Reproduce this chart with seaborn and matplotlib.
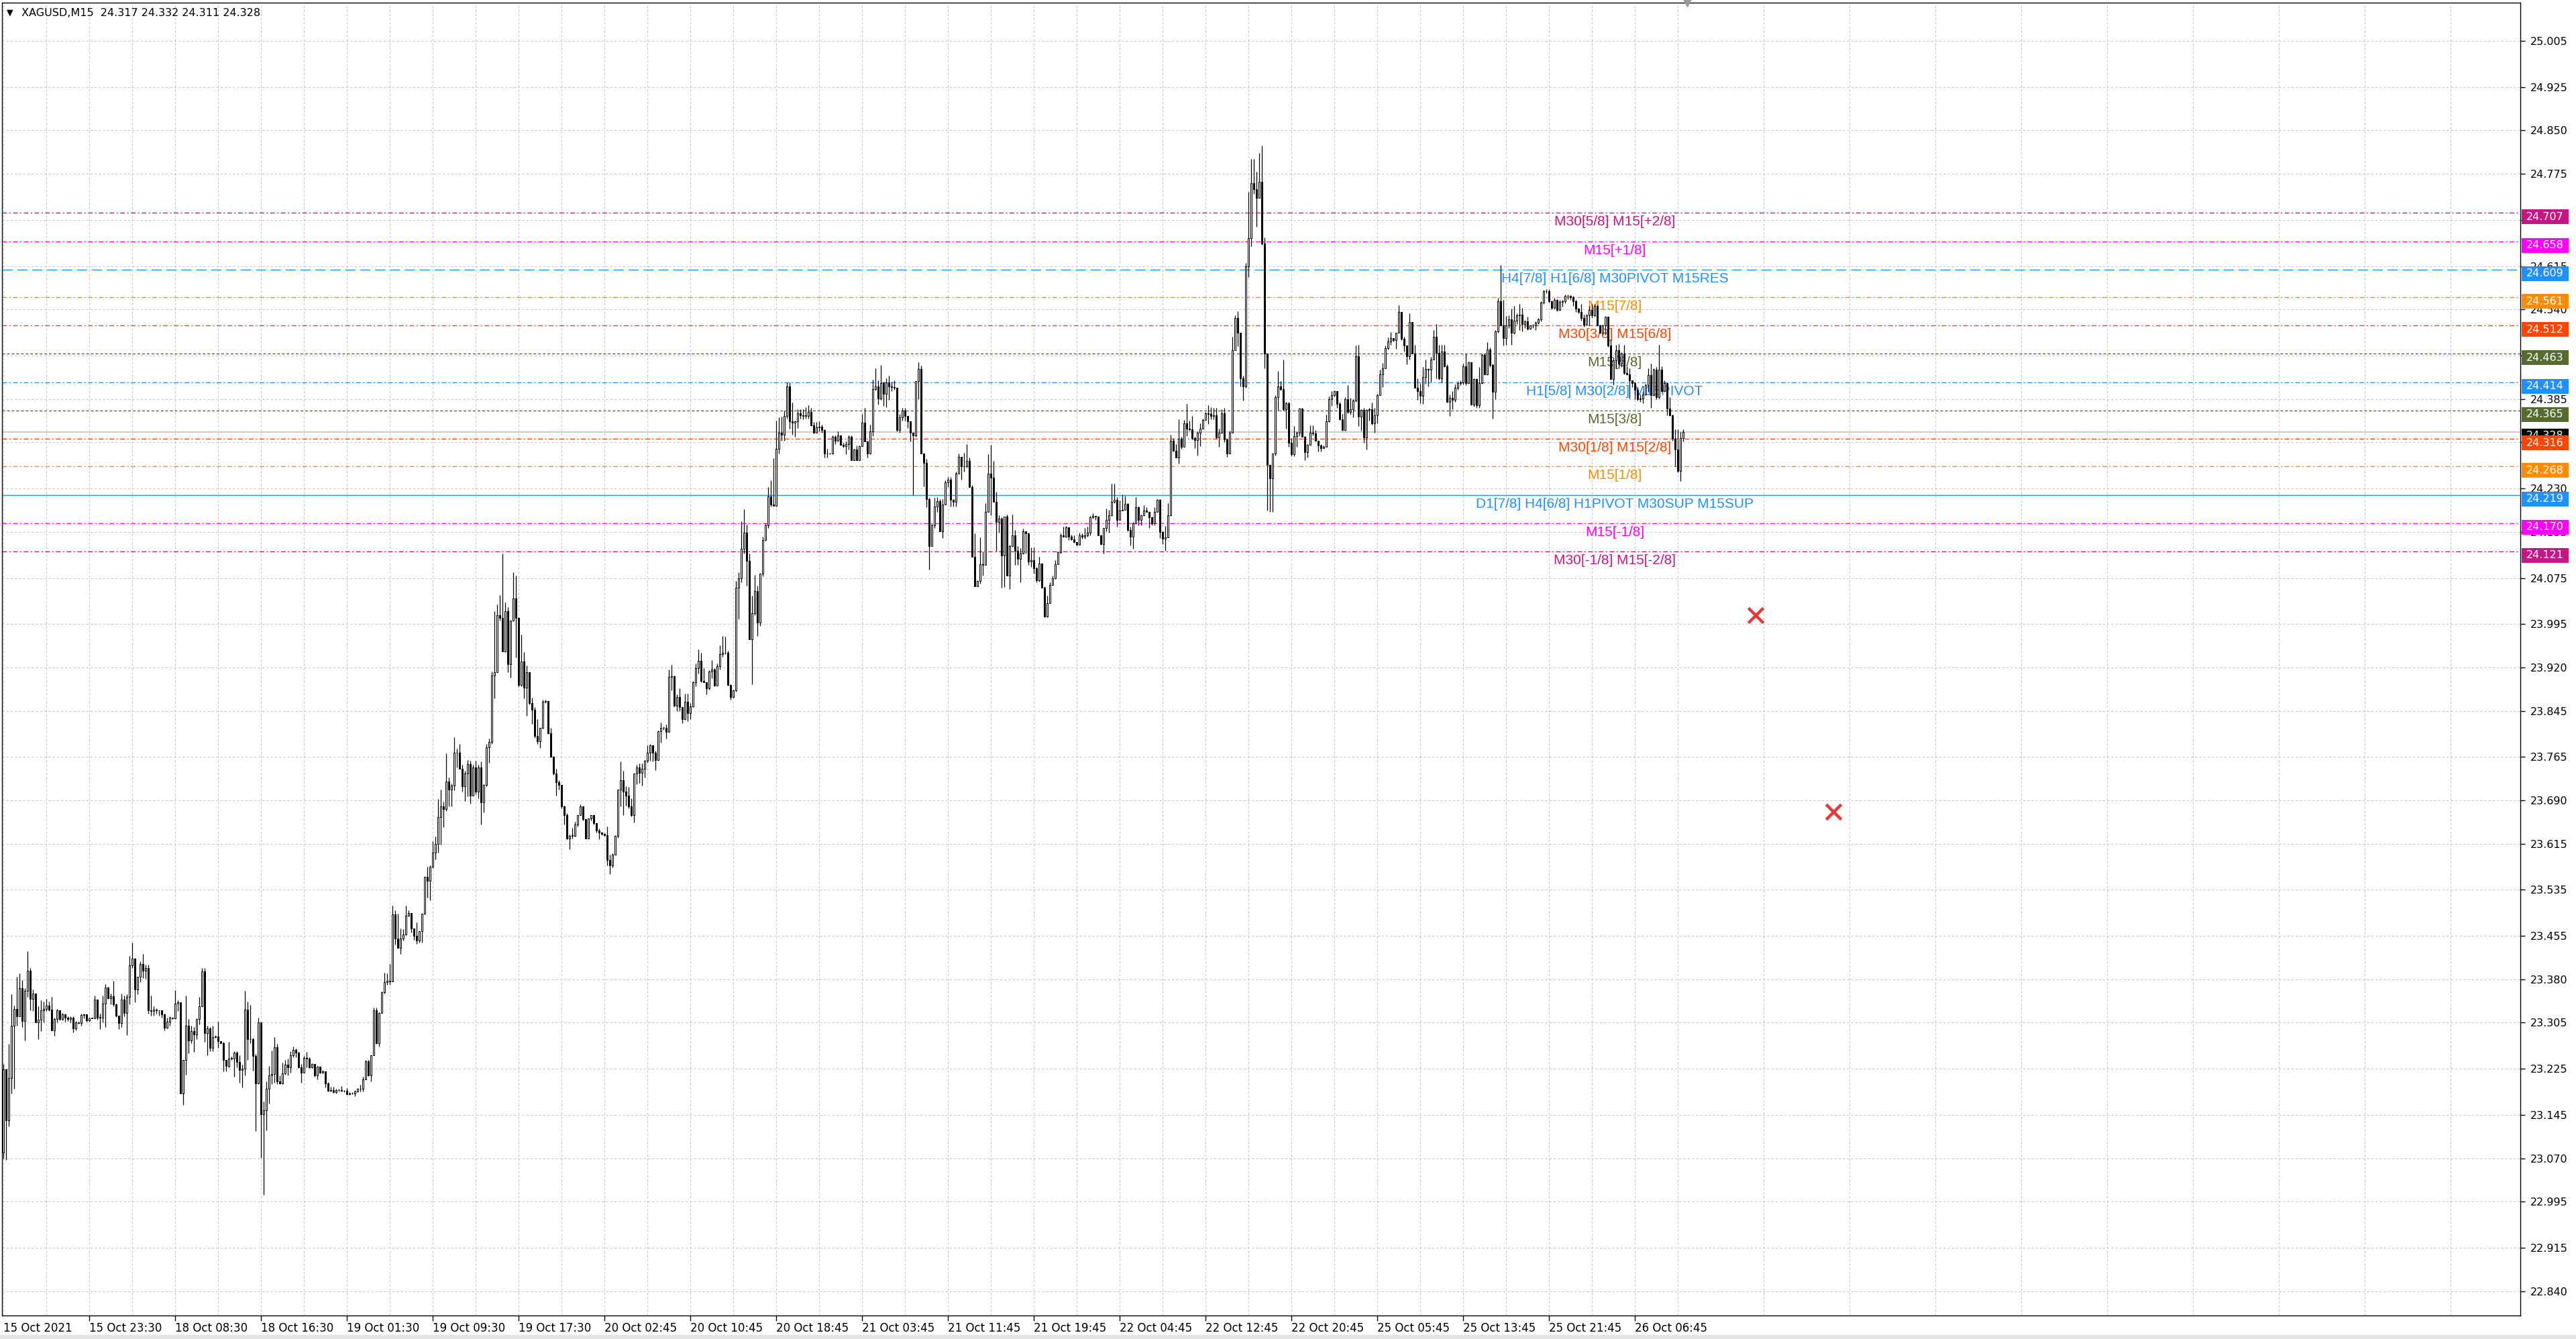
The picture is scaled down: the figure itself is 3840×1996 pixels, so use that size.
import numpy as np
import pandas as pd
import matplotlib
matplotlib.use('Agg')
import matplotlib.pyplot as plt
import matplotlib.transforms as mtransforms
from matplotlib.patches import Rectangle
import seaborn as sns

HEADER = "XAGUSD,M15  24.317 24.332 24.311 24.328"

# M15 bars (open of a bar = close of the previous one)
first_open = 23.080
close = [
    23.224, 23.136, 23.209, 23.300, 23.329, 23.316, 23.365, 23.308, 23.360, 23.395,
    23.346, 23.356, 23.306, 23.310, 23.326, 23.329, 23.335, 23.328, 23.292, 23.311,
    23.326, 23.311, 23.320, 23.314, 23.311, 23.314, 23.295, 23.306, 23.304, 23.318,
    23.319, 23.309, 23.313, 23.313, 23.345, 23.314, 23.314, 23.338, 23.366, 23.347,
    23.351, 23.337, 23.317, 23.304, 23.345, 23.322, 23.350, 23.404, 23.416, 23.363,
    23.384, 23.407, 23.395, 23.400, 23.326, 23.325, 23.328, 23.326, 23.326, 23.319,
    23.296, 23.307, 23.314, 23.312, 23.338, 23.340, 23.183, 23.240, 23.300, 23.274,
    23.290, 23.285, 23.311, 23.334, 23.394, 23.287, 23.295, 23.261, 23.280, 23.281,
    23.273, 23.270, 23.241, 23.230, 23.243, 23.243, 23.253, 23.237, 23.223, 23.226,
    23.328, 23.276, 23.277, 23.247, 23.200, 23.305, 23.146, 23.153, 23.190, 23.214,
    23.216, 23.263, 23.203, 23.200, 23.217, 23.232, 23.228, 23.249, 23.258, 23.253,
    23.228, 23.219, 23.244, 23.243, 23.228, 23.234, 23.214, 23.229, 23.218, 23.221,
    23.200, 23.187, 23.188, 23.185, 23.188, 23.188, 23.187, 23.187, 23.181, 23.183,
    23.182, 23.186, 23.191, 23.190, 23.207, 23.238, 23.214, 23.249, 23.326, 23.269,
    23.322, 23.358, 23.375, 23.377, 23.376, 23.493, 23.451, 23.435, 23.451, 23.458,
    23.490, 23.495, 23.468, 23.455, 23.447, 23.463, 23.494, 23.558, 23.551, 23.575,
    23.599, 23.614, 23.661, 23.679, 23.675, 23.722, 23.709, 23.715, 23.773, 23.772,
    23.745, 23.714, 23.736, 23.753, 23.698, 23.747, 23.705, 23.747, 23.686, 23.717,
    23.782, 23.791, 23.906, 23.912, 24.011, 24.006, 23.948, 24.018, 23.926, 24.001,
    24.040, 24.006, 23.890, 23.931, 23.885, 23.912, 23.858, 23.847, 23.802, 23.792,
    23.815, 23.861, 23.862, 23.806, 23.766, 23.736, 23.721, 23.717, 23.679, 23.664,
    23.624, 23.629, 23.629, 23.648, 23.665, 23.679, 23.657, 23.624, 23.659, 23.664,
    23.650, 23.638, 23.634, 23.632, 23.630, 23.587, 23.577, 23.596, 23.629, 23.709,
    23.725, 23.705, 23.698, 23.679, 23.664, 23.736, 23.747, 23.738, 23.745, 23.759,
    23.773, 23.785, 23.772, 23.760, 23.810, 23.816, 23.815, 23.809, 23.904, 23.905,
    23.854, 23.869, 23.851, 23.831, 23.861, 23.841, 23.853, 23.895, 23.919, 23.932,
    23.897, 23.895, 23.884, 23.913, 23.917, 23.889, 23.922, 23.943, 23.946, 23.945,
    23.890, 23.869, 23.880, 24.058, 24.074, 24.126, 24.154, 24.105, 23.969, 24.014,
    24.052, 23.998, 24.083, 24.141, 24.166, 24.216, 24.202, 24.200, 24.299, 24.327,
    24.323, 24.356, 24.407, 24.346, 24.344, 24.346, 24.360, 24.357, 24.356, 24.356,
    24.362, 24.339, 24.327, 24.336, 24.337, 24.331, 24.290, 24.291, 24.290, 24.319,
    24.313, 24.322, 24.306, 24.303, 24.307, 24.320, 24.279, 24.298, 24.279, 24.303,
    24.344, 24.311, 24.290, 24.329, 24.402, 24.407, 24.386, 24.412, 24.394, 24.414,
    24.407, 24.406, 24.404, 24.331, 24.353, 24.365, 24.355, 24.346, 24.326, 24.322,
    24.416, 24.437, 24.291, 24.274, 24.212, 24.130, 24.166, 24.199, 24.208, 24.156,
    24.202, 24.240, 24.245, 24.210, 24.207, 24.256, 24.285, 24.268, 24.268, 24.278,
    24.232, 24.112, 24.060, 24.070, 24.099, 24.098, 24.190, 24.256, 24.249, 24.207,
    24.172, 24.178, 24.114, 24.181, 24.079, 24.130, 24.149, 24.122, 24.108, 24.118,
    24.156, 24.152, 24.103, 24.106, 24.092, 24.071, 24.100, 24.058, 24.008, 24.031,
    24.063, 24.075, 24.099, 24.120, 24.149, 24.147, 24.163, 24.147, 24.142, 24.137,
    24.132, 24.149, 24.146, 24.149, 24.154, 24.180, 24.183, 24.181, 24.149, 24.134,
    24.161, 24.176, 24.184, 24.207, 24.210, 24.175, 24.192, 24.193, 24.203, 24.158,
    24.147, 24.170, 24.197, 24.176, 24.184, 24.192, 24.190, 24.180, 24.170, 24.190,
    24.210, 24.155, 24.143, 24.145, 24.184, 24.313, 24.295, 24.284, 24.316, 24.302,
    24.343, 24.334, 24.332, 24.317, 24.314, 24.327, 24.334, 24.349, 24.360, 24.359,
    24.356, 24.357, 24.318, 24.327, 24.360, 24.315, 24.291, 24.327, 24.469, 24.525,
    24.500, 24.421, 24.407, 24.614, 24.663, 24.758, 24.748, 24.733, 24.761, 24.654,
    24.463, 24.271, 24.247, 24.290, 24.388, 24.407, 24.402, 24.367, 24.378, 24.309,
    24.289, 24.321, 24.327, 24.368, 24.320, 24.293, 24.306, 24.326, 24.325, 24.313,
    24.305, 24.300, 24.302, 24.346, 24.385, 24.392, 24.398, 24.377, 24.350, 24.331,
    24.385, 24.362, 24.367, 24.382, 24.459, 24.354, 24.366, 24.318, 24.366, 24.367,
    24.343, 24.357, 24.392, 24.428, 24.438, 24.473, 24.485, 24.490, 24.487, 24.499,
    24.536, 24.489, 24.478, 24.459, 24.518, 24.463, 24.404, 24.398, 24.390, 24.423,
    24.437, 24.436, 24.453, 24.493, 24.465, 24.420, 24.467, 24.442, 24.380, 24.387,
    24.383, 24.404, 24.413, 24.414, 24.442, 24.413, 24.448, 24.375, 24.419, 24.374,
    24.413, 24.461, 24.428, 24.471, 24.444, 24.397, 24.502, 24.554, 24.512, 24.490,
    24.512, 24.523, 24.500, 24.521, 24.530, 24.531, 24.515, 24.519, 24.506, 24.512,
    24.512, 24.517, 24.523, 24.552, 24.572, 24.571, 24.554, 24.543, 24.557, 24.539,
    24.553, 24.554, 24.564, 24.563, 24.561, 24.554, 24.541, 24.535, 24.525, 24.513,
    24.530, 24.539, 24.530, 24.546, 24.512, 24.500, 24.512, 24.527, 24.477, 24.419,
    24.452, 24.469, 24.446, 24.463, 24.430, 24.428, 24.417, 24.413, 24.401, 24.384,
    24.386, 24.393, 24.409, 24.426, 24.392, 24.436, 24.388, 24.436, 24.399, 24.413,
    24.368, 24.357, 24.316, 24.297, 24.260, 24.317, 24.328,
]
high = [
    23.234, 23.226, 23.268, 23.354, 23.335, 23.384, 23.390, 23.379, 23.365, 23.429,
    23.400, 23.363, 23.356, 23.333, 23.344, 23.342, 23.346, 23.342, 23.350, 23.314,
    23.329, 23.327, 23.322, 23.321, 23.316, 23.316, 23.316, 23.308, 23.307, 23.321,
    23.321, 23.320, 23.314, 23.314, 23.352, 23.345, 23.321, 23.352, 23.372, 23.367,
    23.356, 23.377, 23.338, 23.317, 23.356, 23.352, 23.354, 23.421, 23.444, 23.417,
    23.385, 23.411, 23.424, 23.406, 23.405, 23.352, 23.333, 23.330, 23.327, 23.325,
    23.321, 23.314, 23.316, 23.314, 23.361, 23.344, 23.340, 23.241, 23.352, 23.311,
    23.300, 23.298, 23.312, 23.350, 23.400, 23.400, 23.300, 23.298, 23.300, 23.283,
    23.307, 23.273, 23.272, 23.241, 23.272, 23.246, 23.256, 23.256, 23.249, 23.232,
    23.360, 23.342, 23.336, 23.279, 23.251, 23.314, 23.305, 23.169, 23.203, 23.230,
    23.257, 23.280, 23.268, 23.214, 23.236, 23.240, 23.243, 23.256, 23.264, 23.260,
    23.254, 23.233, 23.247, 23.254, 23.245, 23.235, 23.234, 23.230, 23.229, 23.223,
    23.221, 23.202, 23.194, 23.194, 23.191, 23.190, 23.195, 23.188, 23.192, 23.185,
    23.185, 23.188, 23.192, 23.197, 23.212, 23.241, 23.240, 23.249, 23.331, 23.331,
    23.323, 23.359, 23.391, 23.390, 23.407, 23.508, 23.500, 23.494, 23.468, 23.467,
    23.508, 23.499, 23.495, 23.468, 23.479, 23.463, 23.494, 23.558, 23.575, 23.577,
    23.619, 23.627, 23.692, 23.709, 23.688, 23.771, 23.729, 23.719, 23.799, 23.780,
    23.788, 23.752, 23.741, 23.760, 23.759, 23.752, 23.759, 23.752, 23.757, 23.718,
    23.788, 23.797, 23.913, 24.018, 24.029, 24.046, 24.117, 24.033, 24.025, 24.001,
    24.085, 24.079, 24.007, 23.977, 23.947, 23.924, 23.911, 23.868, 23.852, 23.830,
    23.816, 23.864, 23.864, 23.862, 23.815, 23.767, 23.745, 23.725, 23.717, 23.681,
    23.668, 23.631, 23.642, 23.653, 23.665, 23.683, 23.679, 23.657, 23.659, 23.664,
    23.664, 23.651, 23.641, 23.636, 23.633, 23.645, 23.596, 23.598, 23.630, 23.709,
    23.757, 23.741, 23.714, 23.713, 23.693, 23.737, 23.752, 23.754, 23.754, 23.760,
    23.785, 23.787, 23.785, 23.776, 23.811, 23.825, 23.818, 23.821, 23.916, 23.925,
    23.906, 23.874, 23.884, 23.848, 23.875, 23.875, 23.858, 23.897, 23.927, 23.951,
    23.945, 23.919, 23.895, 23.915, 23.933, 23.919, 23.927, 23.958, 23.975, 23.973,
    23.949, 23.891, 23.881, 24.070, 24.085, 24.173, 24.194, 24.167, 24.118, 24.044,
    24.080, 24.062, 24.083, 24.147, 24.170, 24.232, 24.244, 24.282, 24.347, 24.353,
    24.354, 24.365, 24.414, 24.414, 24.379, 24.347, 24.367, 24.367, 24.367, 24.371,
    24.374, 24.369, 24.345, 24.345, 24.346, 24.340, 24.332, 24.299, 24.292, 24.322,
    24.322, 24.329, 24.321, 24.309, 24.311, 24.322, 24.322, 24.299, 24.304, 24.305,
    24.359, 24.370, 24.313, 24.341, 24.418, 24.438, 24.417, 24.444, 24.415, 24.421,
    24.425, 24.415, 24.417, 24.404, 24.359, 24.370, 24.369, 24.356, 24.346, 24.326,
    24.416, 24.449, 24.443, 24.291, 24.281, 24.214, 24.170, 24.214, 24.215, 24.212,
    24.211, 24.244, 24.250, 24.250, 24.212, 24.259, 24.290, 24.285, 24.292, 24.307,
    24.284, 24.236, 24.152, 24.071, 24.145, 24.121, 24.204, 24.289, 24.306, 24.278,
    24.224, 24.184, 24.180, 24.181, 24.185, 24.133, 24.185, 24.158, 24.130, 24.127,
    24.160, 24.156, 24.153, 24.128, 24.128, 24.094, 24.112, 24.100, 24.060, 24.044,
    24.067, 24.079, 24.106, 24.121, 24.152, 24.164, 24.165, 24.162, 24.150, 24.149,
    24.137, 24.153, 24.152, 24.162, 24.164, 24.183, 24.187, 24.183, 24.181, 24.150,
    24.162, 24.195, 24.193, 24.238, 24.238, 24.215, 24.209, 24.220, 24.217, 24.205,
    24.164, 24.172, 24.215, 24.199, 24.185, 24.201, 24.197, 24.190, 24.181, 24.197,
    24.212, 24.211, 24.156, 24.165, 24.205, 24.323, 24.317, 24.307, 24.350, 24.320,
    24.348, 24.376, 24.347, 24.356, 24.320, 24.329, 24.343, 24.351, 24.362, 24.374,
    24.371, 24.370, 24.369, 24.334, 24.367, 24.370, 24.316, 24.330, 24.493, 24.530,
    24.537, 24.499, 24.425, 24.620, 24.744, 24.800, 24.800, 24.778, 24.811, 24.824,
    24.664, 24.463, 24.271, 24.291, 24.392, 24.433, 24.416, 24.453, 24.380, 24.380,
    24.316, 24.338, 24.329, 24.370, 24.370, 24.321, 24.307, 24.339, 24.339, 24.331,
    24.313, 24.307, 24.304, 24.358, 24.389, 24.398, 24.400, 24.399, 24.380, 24.359,
    24.388, 24.409, 24.387, 24.385, 24.478, 24.479, 24.367, 24.369, 24.367, 24.369,
    24.379, 24.369, 24.394, 24.436, 24.447, 24.477, 24.491, 24.501, 24.490, 24.500,
    24.547, 24.531, 24.493, 24.478, 24.533, 24.518, 24.479, 24.420, 24.411, 24.440,
    24.453, 24.438, 24.458, 24.504, 24.515, 24.479, 24.479, 24.479, 24.445, 24.393,
    24.398, 24.410, 24.416, 24.417, 24.446, 24.463, 24.450, 24.448, 24.421, 24.421,
    24.440, 24.463, 24.463, 24.483, 24.474, 24.446, 24.504, 24.560, 24.617, 24.556,
    24.529, 24.530, 24.541, 24.546, 24.533, 24.550, 24.543, 24.522, 24.527, 24.514,
    24.515, 24.519, 24.525, 24.554, 24.574, 24.575, 24.575, 24.555, 24.560, 24.558,
    24.556, 24.556, 24.566, 24.566, 24.565, 24.564, 24.556, 24.543, 24.550, 24.531,
    24.532, 24.546, 24.549, 24.549, 24.548, 24.513, 24.514, 24.528, 24.528, 24.488,
    24.457, 24.479, 24.480, 24.466, 24.479, 24.442, 24.438, 24.415, 24.415, 24.405,
    24.393, 24.397, 24.411, 24.438, 24.446, 24.438, 24.440, 24.479, 24.442, 24.417,
    24.413, 24.388, 24.358, 24.332, 24.332, 24.328, 24.332,
]
low = [
    23.070, 23.067, 23.125, 23.182, 23.191, 23.300, 23.316, 23.298, 23.274, 23.350,
    23.327, 23.325, 23.306, 23.277, 23.291, 23.306, 23.325, 23.325, 23.292, 23.282,
    23.306, 23.309, 23.309, 23.307, 23.308, 23.306, 23.288, 23.292, 23.303, 23.300,
    23.313, 23.307, 23.307, 23.312, 23.312, 23.310, 23.294, 23.306, 23.298, 23.346,
    23.337, 23.333, 23.315, 23.294, 23.298, 23.316, 23.283, 23.337, 23.400, 23.340,
    23.354, 23.375, 23.382, 23.381, 23.321, 23.317, 23.317, 23.321, 23.317, 23.314,
    23.292, 23.295, 23.300, 23.311, 23.311, 23.325, 23.183, 23.163, 23.215, 23.252,
    23.269, 23.254, 23.276, 23.302, 23.333, 23.272, 23.249, 23.256, 23.256, 23.279,
    23.262, 23.268, 23.221, 23.221, 23.228, 23.240, 23.212, 23.228, 23.201, 23.193,
    23.214, 23.241, 23.270, 23.222, 23.117, 23.199, 23.071, 23.007, 23.119, 23.165,
    23.199, 23.201, 23.199, 23.199, 23.199, 23.215, 23.214, 23.218, 23.245, 23.245,
    23.227, 23.201, 23.218, 23.228, 23.227, 23.227, 23.212, 23.207, 23.217, 23.217,
    23.193, 23.186, 23.186, 23.184, 23.182, 23.186, 23.186, 23.185, 23.180, 23.180,
    23.181, 23.178, 23.185, 23.186, 23.186, 23.207, 23.213, 23.203, 23.249, 23.268,
    23.264, 23.322, 23.356, 23.371, 23.371, 23.376, 23.440, 23.434, 23.424, 23.447,
    23.456, 23.489, 23.461, 23.449, 23.442, 23.444, 23.444, 23.493, 23.522, 23.517,
    23.573, 23.588, 23.599, 23.613, 23.643, 23.672, 23.679, 23.680, 23.708, 23.747,
    23.745, 23.705, 23.689, 23.697, 23.684, 23.698, 23.700, 23.693, 23.648, 23.669,
    23.714, 23.755, 23.787, 23.866, 23.916, 24.001, 23.948, 23.947, 23.912, 23.902,
    24.000, 23.937, 23.886, 23.887, 23.867, 23.836, 23.856, 23.822, 23.798, 23.788,
    23.781, 23.814, 23.859, 23.805, 23.764, 23.734, 23.698, 23.709, 23.676, 23.648,
    23.623, 23.605, 23.624, 23.627, 23.645, 23.664, 23.655, 23.624, 23.624, 23.655,
    23.648, 23.634, 23.623, 23.630, 23.628, 23.577, 23.562, 23.574, 23.597, 23.625,
    23.679, 23.665, 23.681, 23.676, 23.662, 23.652, 23.718, 23.720, 23.716, 23.729,
    23.755, 23.759, 23.757, 23.742, 23.760, 23.790, 23.812, 23.797, 23.809, 23.880,
    23.853, 23.845, 23.845, 23.824, 23.829, 23.827, 23.830, 23.851, 23.887, 23.909,
    23.895, 23.894, 23.874, 23.882, 23.901, 23.887, 23.893, 23.917, 23.939, 23.943,
    23.889, 23.864, 23.868, 23.878, 24.004, 24.067, 24.118, 24.062, 23.969, 23.891,
    24.010, 23.974, 23.992, 24.078, 24.140, 24.162, 24.199, 24.200, 24.199, 24.291,
    24.313, 24.313, 24.351, 24.333, 24.323, 24.319, 24.335, 24.351, 24.350, 24.351,
    24.351, 24.338, 24.325, 24.327, 24.329, 24.327, 24.283, 24.283, 24.289, 24.289,
    24.307, 24.312, 24.305, 24.301, 24.289, 24.298, 24.279, 24.279, 24.279, 24.279,
    24.303, 24.311, 24.283, 24.289, 24.321, 24.400, 24.375, 24.383, 24.373, 24.371,
    24.383, 24.399, 24.401, 24.329, 24.327, 24.347, 24.347, 24.335, 24.311, 24.218,
    24.319, 24.385, 24.291, 24.234, 24.198, 24.090, 24.130, 24.162, 24.190, 24.156,
    24.144, 24.202, 24.232, 24.199, 24.199, 24.199, 24.256, 24.245, 24.259, 24.266,
    24.232, 24.112, 24.060, 24.060, 24.065, 24.079, 24.098, 24.189, 24.184, 24.207,
    24.121, 24.154, 24.058, 24.059, 24.079, 24.056, 24.129, 24.098, 24.098, 24.068,
    24.116, 24.117, 24.098, 24.094, 24.083, 24.067, 24.069, 24.058, 24.007, 24.007,
    24.031, 24.063, 24.073, 24.099, 24.118, 24.146, 24.145, 24.141, 24.141, 24.136,
    24.131, 24.132, 24.143, 24.143, 24.147, 24.149, 24.178, 24.176, 24.149, 24.133,
    24.118, 24.156, 24.153, 24.183, 24.205, 24.164, 24.175, 24.192, 24.197, 24.156,
    24.131, 24.126, 24.168, 24.166, 24.166, 24.183, 24.189, 24.162, 24.166, 24.166,
    24.189, 24.144, 24.134, 24.122, 24.145, 24.183, 24.294, 24.284, 24.273, 24.299,
    24.302, 24.321, 24.330, 24.315, 24.300, 24.287, 24.303, 24.334, 24.348, 24.342,
    24.350, 24.350, 24.316, 24.302, 24.325, 24.310, 24.285, 24.290, 24.329, 24.471,
    24.476, 24.407, 24.382, 24.404, 24.596, 24.649, 24.740, 24.683, 24.733, 24.652,
    24.438, 24.192, 24.190, 24.189, 24.287, 24.365, 24.400, 24.365, 24.334, 24.302,
    24.286, 24.286, 24.302, 24.321, 24.320, 24.279, 24.284, 24.305, 24.322, 24.312,
    24.294, 24.294, 24.300, 24.315, 24.345, 24.373, 24.389, 24.370, 24.349, 24.330,
    24.330, 24.360, 24.358, 24.353, 24.380, 24.338, 24.330, 24.309, 24.298, 24.347,
    24.340, 24.327, 24.343, 24.391, 24.405, 24.438, 24.471, 24.479, 24.484, 24.472,
    24.499, 24.487, 24.467, 24.445, 24.453, 24.463, 24.404, 24.383, 24.378, 24.376,
    24.411, 24.407, 24.415, 24.454, 24.420, 24.418, 24.414, 24.440, 24.379, 24.356,
    24.367, 24.380, 24.401, 24.409, 24.410, 24.409, 24.411, 24.374, 24.372, 24.370,
    24.370, 24.411, 24.426, 24.426, 24.440, 24.351, 24.384, 24.500, 24.511, 24.477,
    24.479, 24.508, 24.479, 24.497, 24.515, 24.504, 24.502, 24.508, 24.504, 24.505,
    24.508, 24.504, 24.515, 24.519, 24.550, 24.568, 24.552, 24.540, 24.541, 24.537,
    24.538, 24.545, 24.551, 24.558, 24.557, 24.546, 24.535, 24.533, 24.521, 24.510,
    24.512, 24.512, 24.525, 24.528, 24.511, 24.498, 24.496, 24.496, 24.475, 24.419,
    24.409, 24.438, 24.438, 24.440, 24.428, 24.426, 24.386, 24.405, 24.384, 24.382,
    24.380, 24.378, 24.391, 24.397, 24.370, 24.390, 24.385, 24.386, 24.397, 24.397,
    24.357, 24.355, 24.312, 24.268, 24.258, 24.243, 24.311,
]

x_labels = ['15 Oct 2021', '15 Oct 23:30', '18 Oct 08:30', '18 Oct 16:30', '19 Oct 01:30',
            '19 Oct 09:30', '19 Oct 17:30', '20 Oct 02:45', '20 Oct 10:45', '20 Oct 18:45',
            '21 Oct 03:45', '21 Oct 11:45', '21 Oct 19:45', '22 Oct 04:45', '22 Oct 12:45',
            '22 Oct 20:45', '25 Oct 05:45', '25 Oct 13:45', '25 Oct 21:45', '26 Oct 06:45']
y_ticks = [25.005, 24.925, 24.850, 24.775, 24.695, 24.615, 24.540, 24.460, 24.385, 24.310,
           24.230, 24.155, 24.075, 23.995, 23.920, 23.845, 23.765, 23.690, 23.615, 23.535,
           23.455, 23.380, 23.305, 23.225, 23.145, 23.070, 22.995, 22.915, 22.840]

# murrey math levels drawn by the indicator
level_prices = [24.707, 24.658, 24.609, 24.561, 24.512, 24.463, 24.414,
                24.365, 24.316, 24.268, 24.219, 24.170, 24.121]
level_colors = ['#C71585', '#FF00FF', '#1E90FF', '#FF8C00', '#FF4500', '#556B2F', '#1E90FF',
                '#556B2F', '#FF4500', '#FF8C00', '#1E90FF', '#FF00FF', '#C71585']
level_texts = ['M30[5/8] M15[+2/8]', 'M15[+1/8]', 'H4[7/8] H1[6/8] M30PIVOT M15RES',
               'M15[7/8]', 'M30[3/8] M15[6/8]', 'M15[5/8]', 'H1[5/8] M30[2/8] M15PIVOT',
               'M15[3/8]', 'M30[1/8] M15[2/8]', 'M15[1/8]',
               'D1[7/8] H4[6/8] H1PIVOT M30SUP M15SUP', 'M15[-1/8]', 'M30[-1/8] M15[-2/8]']
current_price = 24.328

# two red cross objects on the chart
cross_bar = [653, 682]
cross_price = [24.010, 23.670]

dashdot = (0, (5, 2.5, 1.5, 2.5))
level_styles = [dashdot, dashdot, (0, (11, 5)), dashdot, dashdot, (0, (3, 2)), dashdot,
                (0, (3, 2)), dashdot, dashdot, '-', dashdot, dashdot]

df = pd.DataFrame({'close': close, 'high': high, 'low': low})
df['open'] = df['close'].shift(1).fillna(first_open)
df['high'] = df[['high', 'open', 'close']].max(axis=1)
df['low'] = df[['low', 'open', 'close']].min(axis=1)
df['bar'] = np.arange(len(df))

sns.set_theme(style='white')
plt.rcParams['font.family'] = ['DejaVu Sans']

W, H = 3840, 1996
fig = plt.figure(figsize=(W / 100, H / 100), dpi=100)
fig.patch.set_facecolor('white')
ax = fig.add_axes([3 / W, 35 / H, 3754 / W, 1957 / H])
ax.set_facecolor('white')
ax.set_xlim(-0.5, 938)
ax.set_ylim(22.798, 25.071)

for s in ax.spines.values():
    s.set_color('black')
    s.set_linewidth(1.0)

# grid
grid_kw = dict(color='#c4c4c4', lw=0.75, linestyle=(0, (3, 3)))
ax.set_yticks(y_ticks)
ax.set_yticklabels([f'{v:.3f}' for v in y_ticks])
ax.yaxis.tick_right()
ax.tick_params(axis='y', length=5, width=1, pad=6, labelsize=11.5, colors='black',
               direction='out', right=True, left=False)
xt = np.arange(len(x_labels)) * 32
ax.set_xticks(xt)
ax.set_xticklabels(x_labels, ha='left')
ax.set_xticks(np.arange(16, 938, 32), minor=True)
ax.tick_params(axis='x', which='major', length=6, width=1, pad=1.5, labelsize=12,
               colors='black', direction='out', bottom=True)
ax.tick_params(axis='x', which='minor', length=0)
ax.xaxis.get_major_ticks()[0].tick1line.set_visible(False)
ax.grid(True, axis='y', which='major', **grid_kw)
ax.grid(True, axis='x', which='both', **grid_kw)
ax.set_axisbelow(True)

# level lines and their captions
for p, c, st, txt in zip(level_prices, level_colors, level_styles, level_texts):
    ax.axhline(p, color=c, lw=1.0, linestyle=st, zorder=1.5)
    ax.annotate(txt, xy=(600.5, p), xytext=(0, -4), textcoords='offset pixels',
                ha='center', va='top', fontsize=15, color=c,
                family=['Liberation Sans', 'DejaVu Sans'], zorder=2)
ax.axhline(current_price, color='#c0c0c0', lw=1.2, zorder=1.4)

# candles
bull = df['close'] >= df['open']
ax.vlines(df['bar'], df['low'], df['high'], color='black', lw=0.9, zorder=3)
body_lo = df[['open', 'close']].min(axis=1)
body_h = (df['close'] - df['open']).abs().clip(lower=0.0006)
ax.bar(df['bar'][bull], body_h[bull], bottom=body_lo[bull], width=0.5,
       color='white', edgecolor='black', linewidth=0.75, zorder=4)
ax.bar(df['bar'][~bull], body_h[~bull], bottom=body_lo[~bull], width=0.5,
       color='black', edgecolor='black', linewidth=0.75, zorder=4)

# red cross objects
sns.scatterplot(x=cross_bar, y=cross_price, marker='x', s=260, color='#e53935',
                linewidth=3.2, ax=ax, zorder=5, legend=False)
ax.set_xlabel('')
ax.set_ylabel('')

# price labels on the right scale (box hangs a little below its line, as in MT4);
# the bid label goes first so the level labels sit over it
trans = mtransforms.blended_transform_factory(ax.transAxes, ax.transData)
px_per_unit = 861.0
box_w = 70 / 3754
box_h = 22 / px_per_unit
drop = 6 / px_per_unit
for p, c in [(current_price, 'black')] + list(zip(level_prices, level_colors)):
    yc = p - drop
    ax.add_patch(Rectangle((1 + 2 / 3754, yc - box_h / 2), box_w, box_h, transform=trans,
                           facecolor=c, edgecolor='none', clip_on=False, zorder=20))
    ax.text(1 + 9 / 3754, yc, f'{p:.3f}', transform=trans, ha='left', va='center',
            fontsize=11.5, color='white', clip_on=False, zorder=20)

# chart shift marker at the top border
ax.plot([627.5], [25.071], marker='v', markersize=9, color='#9a9a9a',
        clip_on=False, zorder=6)

# header
fig.text(10 / W, 1 - 19 / H, '\u25BC', fontsize=9, va='center', ha='left', color='black')
fig.text(32 / W, 1 - 19 / H, HEADER, fontsize=11.5, va='center', ha='left', color='black')
fig.patches.append(Rectangle((0, 0), 1, 6 / H, transform=fig.transFigure,
                             facecolor='#e4e4e4', edgecolor='none'))

fig.savefig('out.png', dpi=100, facecolor='white')
